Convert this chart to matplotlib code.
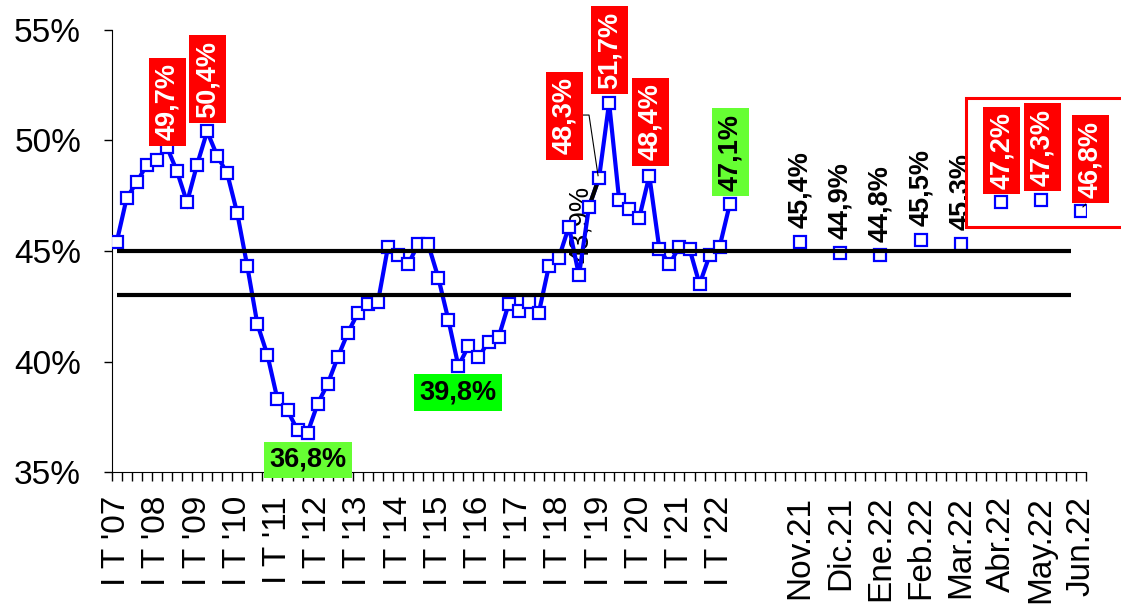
import numpy as np
import matplotlib
matplotlib.use("Agg")
import matplotlib.pyplot as plt
from matplotlib.patches import Rectangle

plt.rcParams['font.family'] = ['Liberation Sans', 'DejaVu Sans']

# quarterly series, I T '07 .. II T '22
quarter_years = list(range(2007, 2023))
quarter_values = [45.4, 47.4, 48.1, 48.9, 49.1, 49.7, 48.6, 47.2, 48.9, 50.4,
                  49.3, 48.5, 46.7, 44.3, 41.7, 40.3, 38.3, 37.8, 36.9, 36.8,
                  38.1, 39.0, 40.2, 41.3, 42.2, 42.6, 42.7, 45.2, 44.8, 44.4,
                  45.3, 45.3, 43.8, 41.9, 39.8, 40.7, 40.2, 40.9, 41.1, 42.6,
                  42.3, 42.7, 42.2, 44.3, 44.7, 46.1, 43.9, 47.0, 48.3, 51.7,
                  47.3, 46.9, 46.5, 48.4, 45.1, 44.4, 45.2, 45.1, 43.5, 44.8,
                  45.2, 47.1]

# monthly series
month_labels = ['Nov.21', 'Dic.21', 'Ene.22', 'Feb.22', 'Mar.22', 'Abr.22', 'May.22', 'Jun.22']
month_values = [45.4, 44.9, 44.8, 45.5, 45.3, 47.2, 47.3, 46.8]

ref_lines = [45.0, 43.0]

BLUE = '#0000FF'
RED = '#FF0000'
LIME = '#66FF33'
GREEN = '#00FF00'
LBL = 19.5


def fmt(v):
    return f"{v:.1f}".replace('.', ',') + '%'


fig = plt.figure(figsize=(11.21, 6.05), dpi=100)
ax = fig.add_axes([0.0996, 0.2192, 0.8696, 0.7319])

xq = np.arange(len(quarter_values))
xm = 68 + 4 * np.arange(len(month_values))
qv = np.array(quarter_values)
mv = np.array(month_values)

ax.plot(xq, qv, color=BLUE, lw=3, zorder=3, solid_joinstyle='miter')
ax.plot(xq[47:49], qv[47:49], color='black', lw=3, zorder=3.1)
mk = dict(ls='none', marker='s', ms=8, mfc='white', mec=BLUE, mew=1.6)
ax.plot(xq, qv, zorder=3.2, **mk)
ax.plot(xm, mv, zorder=4.6, **mk)

for r in ref_lines:
    ax.hlines(r, 0, 95, color='black', lw=3, zorder=5)

ax.set_xlim(-0.5, 96.5)
ax.set_ylim(35, 55)

# axis ticks
ax.set_xticks(np.arange(-0.5, 97, 1), minor=True)
ax.set_xticks(list(xq[::4]) + list(xm))
ax.set_xticklabels([f"I T '{y % 100:02d}" for y in quarter_years] + month_labels)
ax.tick_params(axis='x', which='minor', length=6.5, width=1, direction='out')
ax.tick_params(axis='x', which='major', length=0, pad=17, labelsize=24, labelrotation=90)
ax.set_yticks([35, 40, 45, 50, 55])
ax.set_yticklabels([f"{t}%" for t in [35, 40, 45, 50, 55]])
ax.tick_params(axis='y', length=6, width=1, pad=16, labelsize=24)
for s in ['top', 'right']:
    ax.spines[s].set_visible(False)


def box_label(i, x, y, face, color='white', rotation=90, src=qv):
    ax.text(x, y, fmt(src[i]), rotation=rotation, ha='center', va='center',
            fontsize=LBL, fontweight='bold', color=color, zorder=6,
            bbox=dict(boxstyle='square,pad=0.2', fc=face, ec='none'))


# highlighted quarterly values
box_label(5, 5.05, 51.73, RED)
box_label(9, 9.0, 52.75, RED)
box_label(48, 44.55, 51.1, RED)
box_label(49, 49.0, 54.06, RED)
box_label(53, 53.1, 50.83, RED)
box_label(61, 61.07, 49.47, LIME, color='black')
box_label(19, 19.05, 35.56, LIME, color='black', rotation=0)
box_label(34, 34.0, 38.59, GREEN, color='black', rotation=0)

# leader for 48,3%
ax.plot([46.27, 47.0, 47.9], [51.14, 51.14, qv[48] + 0.1], color='black', lw=0.8, zorder=5)

ax.text(46.2, 46.22, fmt(qv[46]), rotation=90, ha='center', va='center',
        fontsize=LBL, color='black', zorder=2)

# monthly labels
for k in range(5):
    ax.annotate(fmt(mv[k]), (xm[k], mv[k]), xytext=(0, 10), textcoords='offset points',
                rotation=90, ha='center', va='bottom', fontsize=LBL, fontweight='bold',
                zorder=4)
box_label(5, 88.06, 49.54, RED, src=mv)
box_label(6, 92.1, 49.68, RED, src=mv)
box_label(7, 96.9, 49.14, RED, src=mv)
ax.plot([96.15, 96.85], [46.99, 47.3], color='black', lw=0.8, zorder=6)

ax.add_patch(Rectangle((84.5, 46.1), 20, 5.79, fc='white', ec=RED, lw=2.2,
                       clip_on=False, zorder=4.5))

fig.savefig('out.png', dpi=100)
